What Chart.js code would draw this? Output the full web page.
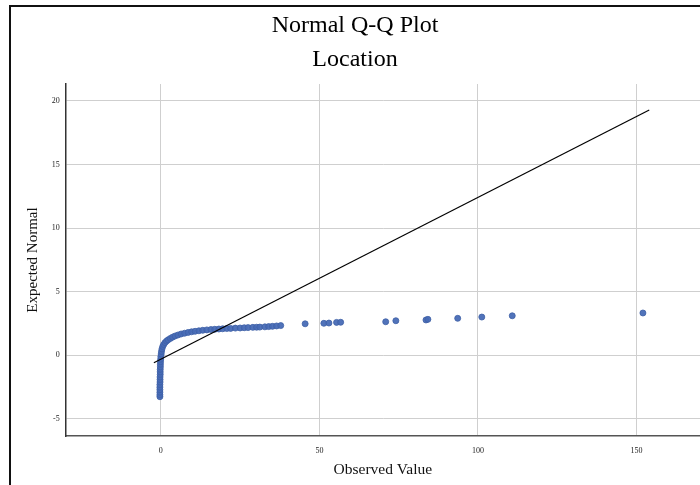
<!DOCTYPE html>
<html>
<head>
<meta charset="utf-8">
<script src="https://cdn.jsdelivr.net/npm/chart.js@4.4.1/dist/chart.umd.min.js"></script>
<style>
  html, body { margin: 0; padding: 0; background: #ffffff; overflow: hidden; }
  #wrap { width: 700px; height: 485px; }
</style>
</head>
<body>
<div id="wrap"><canvas id="c" width="700" height="485"></canvas></div>
<script>
// ---- data ----
const titleLines = ['Normal Q-Q Plot', 'Location'];
const xAxisTitle = 'Observed Value';
const yAxisTitle = 'Expected Normal';
const xTicks = [0, 50, 100, 150];
const yTicks = [-5, 0, 5, 10, 15, 20];

const observed = [
  -0.3, -0.3, -0.3, -0.3, -0.3, -0.3, -0.25, -0.25, -0.25, -0.2, -0.2, -0.2, -0.15, -0.15, -0.1, -0.05,
  0.0, 0.1, 0.2, 0.35, 0.6, 0.9, 1.3, 1.8, 2.3, 3.0, 3.7, 4.5, 5.4, 6.4, 7.5, 8.6, 9.7, 10.8, 12.0,
  13.2, 14.5, 15.8, 17.0, 18.3, 19.5, 20.8, 22.0, 23.5, 25.0, 26.3, 27.5, 29.0, 30.2, 31.2, 32.8,
  34.0, 35.2, 36.5, 37.8, 45.5, 51.4, 53.0, 55.4, 56.7, 70.9, 74.1, 83.6, 84.2, 93.6, 101.2, 110.8, 152.0
];
const expected = [
  -3.25, -3.1, -2.9, -2.7, -2.5, -2.3, -2.1, -1.9, -1.7, -1.5, -1.3, -1.1, -0.9, -0.7, -0.5, -0.3,
  -0.1, 0.1, 0.3, 0.5, 0.7, 0.85, 1.0, 1.12, 1.22, 1.33, 1.43, 1.52, 1.6, 1.68, 1.74, 1.8, 1.85, 1.89, 1.93,
  1.97, 2.0, 2.03, 2.05, 2.07, 2.09, 2.11, 2.12, 2.14, 2.15, 2.17, 2.18, 2.2, 2.21, 2.22, 2.24,
  2.26, 2.28, 2.31, 2.34, 2.48, 2.52, 2.54, 2.59, 2.6, 2.64, 2.72, 2.78, 2.83, 2.91, 3.01, 3.11, 3.33
];

const refLineX = [-2.2, 154];
const refLineY = [-0.58, 19.29];

// ---- build chart ----
const serif = "'Liberation Serif', 'Times New Roman', Times, serif";
const points = observed.map((x, i) => ({ x: x, y: expected[i] }));
const refLine = refLineX.map((x, i) => ({ x: x, y: refLineY[i] }));

const framePlugin = {
  id: 'frame',
  afterLayout(chart) {
    // the plot area runs to the right edge of the picture
    const xs = chart.scales.x;
    const target = chart.width;
    if (xs.right < target) {
      xs.right = target;
      xs.width = target - xs.left;
      xs.configure();
      chart.chartArea.right = target;
      chart.chartArea.width = target - chart.chartArea.left;
    }
  },
  afterDraw(chart) {
    const ctx = chart.ctx;
    ctx.save();
    ctx.strokeStyle = '#111111';
    ctx.lineWidth = 2;
    ctx.beginPath();
    ctx.moveTo(10, 485);
    ctx.lineTo(10, 6);
    ctx.lineTo(700, 6);
    ctx.stroke();
    ctx.restore();
  }
};

new Chart(document.getElementById('c'), {
  type: 'scatter',
  data: {
    datasets: [
      {
        type: 'line',
        data: refLine,
        borderColor: '#000000',
        borderWidth: 1.2,
        pointRadius: 0,
        fill: false,
        order: 0
      },
      {
        data: points,
        backgroundColor: 'rgba(72,108,182,0.95)',
        borderColor: '#3d5fa6',
        borderWidth: 0.8,
        pointRadius: 3,
        order: 1
      }
    ]
  },
  options: {
    responsive: false,
    animation: false,
    events: [],
    layout: { padding: { left: 10, right: 0, top: 0, bottom: 0 } },
    plugins: {
      legend: { display: false },
      tooltip: { enabled: false },
      title: {
        display: true,
        text: titleLines,
        color: '#000000',
        font: { family: serif, size: 24, weight: 'normal', lineHeight: 34 / 24 },
        padding: { top: 8.6, bottom: 7.4 }
      }
    },
    scales: {
      x: {
        type: 'linear',
        min: -30,
        max: 170,
        afterBuildTicks(scale) { scale.ticks = xTicks.map(v => ({ value: v })); },
        afterFit(scale) { scale.height = 49; },
        grid: { color: '#cfcfcf', lineWidth: 1, drawTicks: true, tickLength: 10, tickColor: 'rgba(0,0,0,0)' },
        border: { color: '#555555', width: 1.5 },
        ticks: { color: '#222222', font: { family: serif, size: 8 }, padding: 0, maxRotation: 0 },
        title: {
          display: true,
          text: xAxisTitle,
          color: '#111111',
          font: { family: serif, size: 15.5, lineHeight: 1.2 },
          padding: { top: 0, bottom: 6 }
        }
      },
      y: {
        type: 'linear',
        min: -6.34,
        max: 21.33,
        afterBuildTicks(scale) { scale.ticks = yTicks.map(v => ({ value: v })); },
        afterFit(scale) { scale.width = 55.7; },
        grid: { color: '#cfcfcf', lineWidth: 1, drawTicks: false },
        border: { color: '#333333', width: 1.5 },
        ticks: { color: '#222222', font: { family: serif, size: 8 }, padding: 6 },
        title: {
          display: true,
          text: yAxisTitle,
          color: '#111111',
          font: { family: serif, size: 15, lineHeight: 1.2 },
          padding: { top: 14, bottom: 0 }
        }
      }
    }
  },
  plugins: [framePlugin]
});
</script>
</body>
</html>
